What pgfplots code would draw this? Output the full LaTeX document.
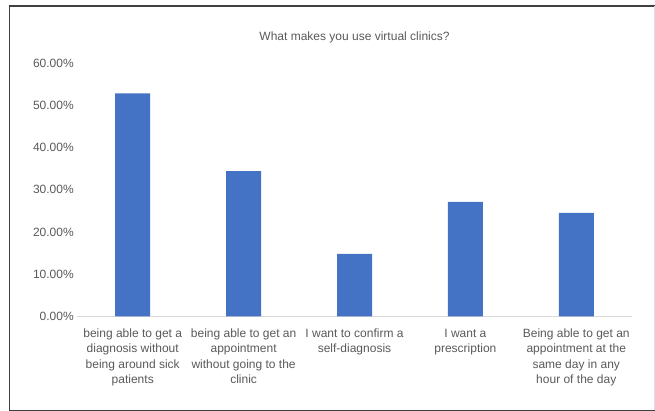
\documentclass[border=0pt]{standalone}
\usepackage{pgfplots}
\pgfplotsset{compat=1.18}
\usepackage{fontspec}
\setmainfont{Liberation Sans}
\definecolor{barblue}{HTML}{4472C4}
\definecolor{txtgray}{HTML}{595959}
\definecolor{axgray}{HTML}{D9D9D9}
\definecolor{framegray}{HTML}{404040}
\begin{document}
\begin{tikzpicture}[x=1pt,y=1pt]
\path[use as bounding box] (0,0) rectangle (655,411);
\draw[framegray, line width=1.1pt] (655,405) -- (9.3,405) -- (9.3,0.8) -- (655,0.8);
\draw[black!12, line width=0.8pt] (654.5,405) -- (654.5,0.8);
\begin{axis}[
  at={(77.3pt,94.7pt)}, anchor=south west,
  scale only axis, width=554.4pt, height=253.2pt,
  xmin=-0.5, xmax=4.5, ymin=0, ymax=60,
  ybar, bar width=35pt,
  axis x line=bottom, axis y line=left,
  x axis line style={-, draw=axgray, line width=0.9pt},
  y axis line style={draw=none},
  major tick length=0pt, tick style={draw=none},
  ytick={0,10,...,60},
  xtick={0,...,4},
  /pgf/number format/assume math mode=true,
  yticklabel={\pgfmathprintnumber[fixed,fixed zerofill,precision=2]{\tick}\%},
  ticklabel style={font=\fontsize{12}{15.4}\selectfont, text=txtgray},
  xticklabel style={align=center, yshift=-9pt},
  xticklabels={{being able to get a\\diagnosis without\\being around sick\\patients},
               {being able to get an\\appointment\\without going to the\\clinic},
               {I want to confirm a\\self-diagnosis},
               {I want a\\prescription},
               {Being able to get an\\appointment at the\\same day in any\\hour of the day}},
  title={What makes you use virtual clinics?},
  title style={font=\fontsize{12}{15}\selectfont, text=txtgray, at={(0.5,1)}, anchor=center, yshift=20pt},
]
\addplot[fill=barblue, draw=none] coordinates {(0,52.8) (1,34.4) (2,14.8) (3,27.1) (4,24.5)};
\end{axis}
\end{tikzpicture}
\end{document}
